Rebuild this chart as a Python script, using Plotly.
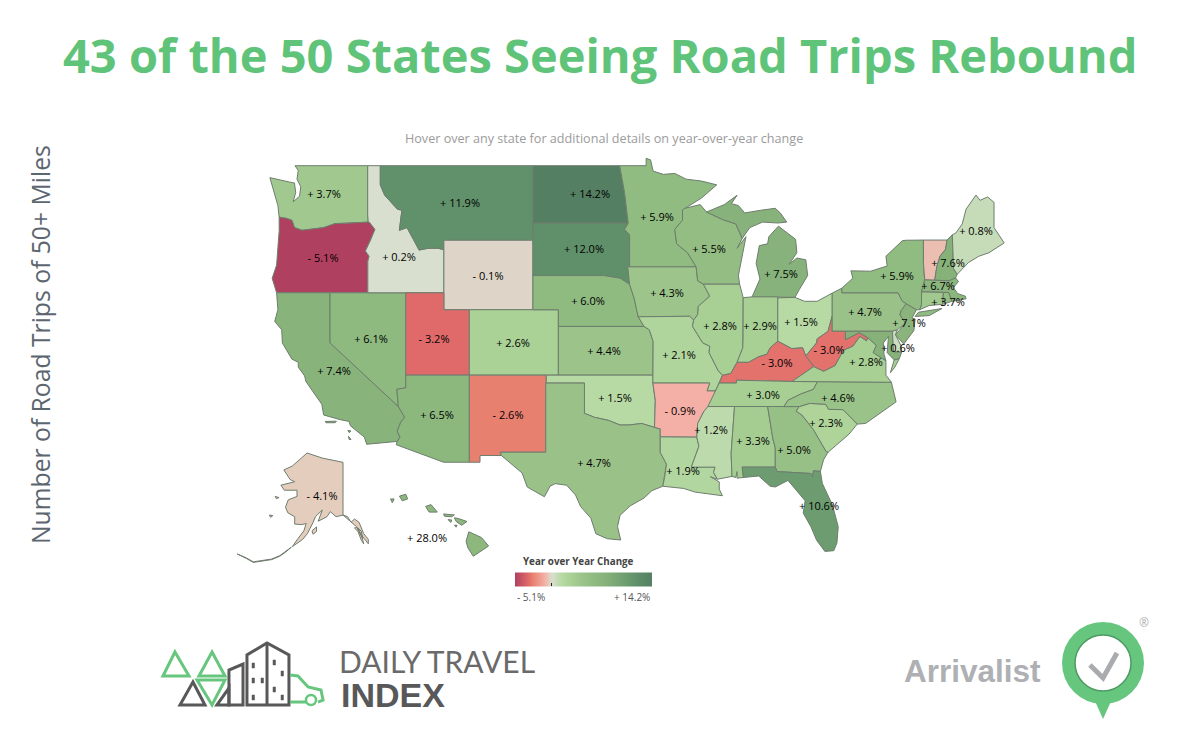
import math
import plotly.graph_objects as go
from plotly.colors import sample_colorscale

# ---------- data ----------
STATES = ["WA","OR","CA","NV","ID","MT","WY","UT","AZ","CO","NM","ND","SD","NE","KS","OK","TX","MN","IA","MO","AR","LA",
          "WI","IL","MS","MI","IN","OH","KY","TN","AL","GA","FL","SC","NC","VA","WV","PA","NY","ME","NH","MA","CT","NJ","DE","AK","HI"]
VALUES = [3.7,-5.1,7.4,6.1,0.2,11.9,-0.1,-3.2,6.5,2.6,-2.6,14.2,12.0,6.0,4.4,1.5,4.7,5.9,4.3,2.1,-0.9,1.9,
          5.5,2.8,1.2,7.5,2.9,1.5,-3.0,3.0,3.3,5.0,10.6,2.3,4.6,2.8,-3.0,4.7,5.9,0.8,7.6,6.7,3.7,7.1,0.6,-4.1,28.0]
# shading that differs from the printed label, or states with no printed label
SHADE_OVERRIDES = {"AK":-0.3,"HI":6.5,"VT":-0.6,"MD":7.6,"RI":5.5}

WHITE_TITLE = "43 of the 50 States Seeing Road Trips Rebound"
SUBTITLE = "Hover over any state for additional details on year-over-year change"
SIDE_TITLE = "Number of Road Trips of 50+ Miles"
LEGEND_TITLE = "Year over Year Change"
LEGEND_MIN, LEGEND_MAX = -5.1, 14.2

OUTLINES = {
"WA":[[(-124.73,48.38),(-124.4,47.6),(-124.1,46.9),(-124.0,46.27),(-123.4,46.2),(-123.0,46.1),(-122.8,45.7),(-122.2,45.55),(-121.2,45.65),(-120.5,45.7),(-119.6,45.92),(-119.0,45.93),(-117.0,46.0),(-117.04,46.42),(-117.04,49),(-122.75,49),(-122.5,48.75),(-122.6,48.3),(-122.3,47.9),(-122.4,47.4),(-122.9,47.1),(-122.7,47.6),(-122.8,48.1),(-123.2,48.15)]],
"OR":[[(-124.0,46.27),(-124.0,45.5),(-124.1,44.6),(-124.2,43.6),(-124.55,42.84),(-124.2,42),(-120,42),(-117.03,42),(-117.03,43.83),(-116.93,44.1),(-117.22,44.4),(-116.85,44.95),(-116.47,45.6),(-116.9,45.99),(-117.0,46.0),(-119.0,45.93),(-119.6,45.92),(-120.5,45.7),(-121.2,45.65),(-122.2,45.55),(-122.8,45.7),(-123.0,46.1),(-123.4,46.2)]],
"CA":[[(-124.2,42),(-120,42),(-120,39),(-114.63,35.0),(-114.13,34.3),(-114.43,34.0),(-114.72,33.4),(-114.5,33.0),(-114.72,32.72),(-117.12,32.53),(-117.3,33.0),(-118.4,33.75),(-118.5,34.03),(-119.2,34.15),(-120.5,34.45),(-120.65,35.15),(-121.9,36.6),(-122.0,36.95),(-122.5,37.5),(-122.5,37.8),(-123.0,38.0),(-123.75,39.0),(-123.8,39.8),(-124.35,40.3),(-124.1,41.0)],
      [(-120.4,34.03),(-119.5,34.05),(-119.6,33.95),(-120.3,33.95)],[(-118.6,33.45),(-118.35,33.4),(-118.5,33.3)],[(-118.55,33.05),(-118.35,32.85),(-118.5,32.85)]],
"NV":[[(-120,42),(-114.04,42),(-114.04,36.2),(-114.75,36.1),(-114.63,35.0),(-120,39)]],
"ID":[[(-117.04,49),(-116.05,49),(-116.05,48.0),(-115.7,47.45),(-114.7,46.7),(-114.35,46.65),(-114.55,45.55),(-113.95,45.7),(-113.45,45.05),(-113.0,44.45),(-112.3,44.55),(-111.5,44.55),(-111.05,44.47),(-111.05,42),(-117.03,42),(-117.03,43.83),(-116.93,44.1),(-117.22,44.4),(-116.85,44.95),(-116.47,45.6),(-116.9,45.99),(-117.0,46.0),(-117.04,46.42)]],
"MT":[[(-116.05,49),(-104.05,49),(-104.05,45),(-111.05,45),(-111.05,44.47),(-111.5,44.55),(-112.3,44.55),(-113.0,44.45),(-113.45,45.05),(-113.95,45.7),(-114.55,45.55),(-114.35,46.65),(-114.7,46.7),(-115.7,47.45),(-116.05,48.0)]],
"WY":[[(-111.05,45),(-104.05,45),(-104.05,41),(-111.05,41)]],
"UT":[[(-114.05,42),(-111.05,42),(-111.05,41),(-109.05,41),(-109.05,37),(-114.05,37)]],
"CO":[[(-109.05,41),(-102.05,41),(-102.05,37),(-109.05,37)]],
"AZ":[[(-114.05,37),(-109.05,37),(-109.05,31.33),(-111.07,31.33),(-114.8,32.5),(-114.72,32.72),(-114.5,33.0),(-114.72,33.4),(-114.43,34.0),(-114.13,34.3),(-114.63,35.0),(-114.75,36.1),(-114.04,36.2)]],
"NM":[[(-109.05,37),(-103.0,37),(-103.04,32),(-106.62,32),(-106.53,31.78),(-108.21,31.78),(-108.21,31.33),(-109.05,31.33)]],
"ND":[[(-104.05,49),(-97.23,49),(-96.85,47.6),(-96.56,45.94),(-104.05,45.94)]],
"SD":[[(-104.05,45.94),(-96.56,45.94),(-96.85,45.6),(-96.45,45.3),(-96.45,43.5),(-96.6,43.5),(-96.45,42.49),(-97.2,42.85),(-98.5,43.0),(-104.05,43)]],
"NE":[[(-104.05,43),(-98.5,43),(-97.2,42.85),(-96.45,42.49),(-96.1,41.7),(-95.9,41.0),(-95.77,40.58),(-95.31,40),(-102.05,40),(-102.05,41),(-104.05,41)]],
"KS":[[(-102.05,40),(-95.31,40),(-94.9,39.8),(-94.6,39.1),(-94.62,37),(-102.05,37)]],
"OK":[[(-103,37),(-94.62,37),(-94.62,36.5),(-94.43,35.4),(-94.49,33.64),(-95.5,33.9),(-96.5,33.8),(-97.2,33.8),(-98.1,34.1),(-99.2,34.3),(-100,34.56),(-100,36.5),(-103,36.5)]],
"TX":[[(-103.04,36.5),(-100,36.5),(-100,34.56),(-99.2,34.3),(-98.1,34.1),(-97.2,33.8),(-96.5,33.8),(-95.5,33.9),(-94.49,33.64),(-94.04,33.55),(-94.04,33.02),(-94.04,31.99),(-93.55,31.2),(-93.7,30.3),(-93.84,29.7),(-94.7,29.4),(-95.3,28.9),(-96.4,28.35),(-97.2,27.7),(-97.4,26.9),(-97.15,25.96),(-98.2,26.05),(-99.1,26.4),(-99.5,27.5),(-100.3,28.3),(-100.7,29.1),(-101.4,29.77),(-102.3,29.88),(-102.7,29.7),(-103.15,28.98),(-104.5,29.65),(-104.9,30.6),(-106.53,31.78),(-106.62,32),(-103.04,32)]],
"MN":[[(-97.23,49),(-95.15,49),(-95.15,49.38),(-94.8,49.3),(-94.6,48.72),(-93.8,48.55),(-92.9,48.6),(-92.0,48.3),(-90.8,48.2),(-89.6,48.0),(-90.8,47.3),(-92.1,46.75),(-92.29,46.66),(-92.29,46.1),(-92.9,45.6),(-92.75,44.8),(-91.9,44.3),(-91.22,43.5),(-96.45,43.5),(-96.45,45.3),(-96.85,45.6),(-96.56,45.94),(-96.85,47.6)]],
"IA":[[(-96.6,43.5),(-91.22,43.5),(-91.1,42.7),(-90.65,42.5),(-90.15,41.8),(-91.05,41.2),(-91.1,40.7),(-91.42,40.38),(-91.73,40.61),(-95.77,40.58),(-95.9,41.0),(-96.1,41.7),(-96.45,42.49)]],
"MO":[[(-95.77,40.58),(-91.73,40.61),(-91.42,40.38),(-91.5,40.0),(-90.7,39.0),(-90.15,38.8),(-90.2,38.4),(-89.5,37.3),(-89.15,36.99),(-89.4,36.5),(-89.7,36.0),(-90.37,36.0),(-90.15,36.5),(-94.62,36.5),(-94.62,37),(-94.6,39.1),(-94.9,39.8),(-95.31,40)]],
"AR":[[(-94.62,36.5),(-90.15,36.5),(-90.37,36.0),(-89.7,36.0),(-90.1,35.1),(-90.6,34.7),(-91.1,33.9),(-91.17,33.0),(-94.04,33.02),(-94.04,33.55),(-94.49,33.64),(-94.43,35.4)]],
"LA":[[(-94.04,33.02),(-91.17,33.0),(-91.0,32.4),(-91.6,31.0),(-89.73,31.0),(-89.85,30.65),(-89.55,30.18),(-90.1,30.35),(-89.4,30.0),(-89.4,29.5),(-89.15,29.05),(-90.1,29.15),(-91.3,29.3),(-92.2,29.55),(-93.84,29.7),(-93.7,30.3),(-93.55,31.2),(-94.04,31.99)]],
"WI":[[(-92.29,46.66),(-92.1,46.75),(-90.9,46.95),(-90.4,46.55),(-89.1,46.13),(-88.1,45.9),(-87.6,45.1),(-88.0,44.55),(-87.3,45.2),(-87.6,44.2),(-87.9,43.0),(-87.8,42.5),(-90.65,42.5),(-91.1,42.7),(-91.22,43.5),(-91.9,44.3),(-92.75,44.8),(-92.9,45.6),(-92.29,46.1)]],
"IL":[[(-90.65,42.5),(-87.8,42.5),(-87.52,41.71),(-87.53,39.35),(-87.55,38.7),(-88.0,37.8),(-88.5,37.1),(-89.15,36.99),(-89.5,37.3),(-90.2,38.4),(-90.15,38.8),(-90.7,39.0),(-91.5,40.0),(-91.42,40.38),(-91.1,40.7),(-91.05,41.2),(-90.15,41.8)]],
"MS":[[(-90.3,35.0),(-88.2,35.0),(-88.47,31.9),(-88.4,30.37),(-89.55,30.18),(-89.85,30.65),(-89.73,31.0),(-91.6,31.0),(-91.0,32.4),(-91.17,33.0),(-91.1,33.9),(-90.6,34.7)]],
"MI":[[(-86.82,41.76),(-84.8,41.76),(-83.45,41.73),(-83.1,42.2),(-82.45,43.0),(-82.6,43.9),(-83.3,44.0),(-83.9,43.65),(-83.3,44.3),(-83.4,45.05),(-84.75,45.78),(-85.5,45.2),(-85.6,44.8),(-86.25,44.7),(-86.5,43.7),(-86.2,42.8)],
      [(-90.4,46.55),(-89.1,46.13),(-88.1,45.9),(-87.6,45.1),(-87.0,45.7),(-86.0,46.0),(-84.8,45.95),(-84.1,46.0),(-84.6,46.5),(-85.0,46.75),(-86.1,46.65),(-87.4,46.5),(-87.9,46.9),(-88.45,47.0),(-88.0,47.45),(-89.0,46.95)]],
"IN":[[(-87.52,41.71),(-87.2,41.75),(-86.82,41.76),(-84.8,41.76),(-84.8,39.1),(-85.4,38.7),(-85.65,38.3),(-86.3,38.15),(-87.1,37.8),(-88.0,37.8),(-87.55,38.7),(-87.53,39.35)]],
"OH":[[(-84.8,41.7),(-83.45,41.73),(-82.7,41.5),(-81.7,41.5),(-80.52,41.98),(-80.52,40.64),(-80.85,39.7),(-81.7,39.25),(-81.75,39.0),(-82.2,38.6),(-82.6,38.2),(-82.85,38.7),(-83.7,38.65),(-84.3,38.9),(-84.8,39.1)]],
"KY":[[(-89.4,36.5),(-89.15,36.99),(-88.5,37.1),(-88.0,37.8),(-87.1,37.8),(-86.3,38.15),(-85.65,38.3),(-85.4,38.7),(-84.8,39.1),(-84.3,38.9),(-83.7,38.65),(-82.85,38.7),(-82.6,38.2),(-81.97,37.54),(-83.68,36.6),(-88.05,36.68),(-88.05,36.5)]],
"TN":[[(-90.3,35.0),(-89.7,36.0),(-89.4,36.5),(-88.05,36.5),(-88.05,36.68),(-83.68,36.6),(-81.68,36.59),(-82.0,36.1),(-83.0,35.8),(-84.0,35.4),(-84.32,34.99),(-85.6,35),(-88.2,35)]],
"AL":[[(-88.2,35.0),(-85.6,35.0),(-85.18,32.87),(-85.0,32.3),(-85.0,31.0),(-87.6,31.0),(-87.5,30.3),(-88.0,30.25),(-88.0,30.7),(-88.1,30.3),(-88.4,30.37),(-88.47,31.9)]],
"GA":[[(-85.6,35.0),(-83.11,35.0),(-83.35,34.7),(-82.9,34.45),(-82.0,33.5),(-81.4,32.6),(-81.0,32.05),(-80.85,32.0),(-81.2,31.5),(-81.45,30.71),(-82.0,30.75),(-82.05,30.36),(-82.2,30.57),(-84.86,30.7),(-85.0,31.0),(-85.0,32.3),(-85.18,32.87)]],
"FL":[[(-87.6,31.0),(-85.0,31.0),(-84.86,30.7),(-82.2,30.57),(-82.05,30.36),(-82.0,30.75),(-81.45,30.71),(-81.3,29.9),(-80.5,28.4),(-80.05,26.9),(-80.15,25.75),(-80.4,25.2),(-81.1,25.15),(-81.75,25.95),(-82.2,26.9),(-82.8,27.85),(-82.65,28.7),(-83.4,29.5),(-84.0,30.1),(-85.0,29.65),(-85.4,29.7),(-86.3,30.4),(-87.5,30.3)]],
"SC":[[(-83.11,35.0),(-82.3,35.2),(-81.05,35.15),(-80.8,34.82),(-79.67,34.8),(-78.55,33.86),(-79.2,33.2),(-79.9,32.7),(-80.85,32.0),(-81.0,32.05),(-81.4,32.6),(-82.0,33.5),(-82.9,34.45),(-83.35,34.7)]],
"NC":[[(-81.68,36.59),(-75.87,36.55),(-75.5,35.3),(-76.5,34.7),(-77.9,33.9),(-78.55,33.86),(-79.67,34.8),(-80.8,34.82),(-81.05,35.15),(-82.3,35.2),(-83.11,35.0),(-84.32,34.99),(-84.0,35.4),(-83.0,35.8),(-82.0,36.1)]],
"VA":[[(-83.68,36.6),(-81.97,37.54),(-81.2,37.25),(-80.3,37.6),(-79.65,38.55),(-78.9,38.8),(-78.35,39.4),(-77.83,39.13),(-77.72,39.32),(-77.05,38.85),(-77.3,38.4),(-76.3,37.9),(-76.3,37.0),(-75.87,36.55),(-81.68,36.59)],
      [(-75.95,37.15),(-75.65,37.95),(-75.25,38.03),(-75.6,37.5)]],
"WV":[[(-82.6,38.2),(-82.2,38.6),(-81.75,39.0),(-81.7,39.25),(-80.85,39.7),(-80.52,40.64),(-80.52,39.72),(-79.48,39.72),(-79.48,39.2),(-78.4,39.62),(-77.72,39.32),(-77.83,39.13),(-78.35,39.4),(-78.9,38.8),(-79.65,38.55),(-80.3,37.6),(-81.2,37.25),(-81.97,37.54)]],
"MD":[[(-79.48,39.72),(-75.79,39.72),(-75.7,38.46),(-75.05,38.45),(-75.25,38.03),(-75.65,37.95),(-76.2,38.4),(-76.1,39.4),(-76.5,39.0),(-76.45,38.3),(-76.3,37.9),(-77.3,38.4),(-77.05,38.85),(-77.72,39.32),(-78.4,39.62),(-79.48,39.2)]],
"DE":[[(-75.79,39.72),(-75.4,39.8),(-75.55,39.5),(-75.1,38.8),(-75.05,38.45),(-75.7,38.46)]],
"PA":[[(-80.52,41.98),(-79.76,42.27),(-79.76,42.0),(-75.35,42.0),(-75.0,41.5),(-74.7,41.36),(-75.1,40.95),(-75.2,40.7),(-74.75,40.2),(-75.4,39.8),(-75.79,39.72),(-80.52,39.72)]],
"NJ":[[(-74.7,41.36),(-73.9,41.0),(-74.25,40.5),(-74.0,40.45),(-74.1,39.75),(-74.9,38.93),(-75.55,39.5),(-74.75,40.2),(-75.2,40.7),(-75.1,40.95)]],
"NY":[[(-79.76,42.0),(-79.76,42.27),(-78.9,42.85),(-79.05,43.27),(-77.5,43.25),(-76.2,43.55),(-76.3,44.1),(-75.0,44.98),(-74.7,45.0),(-73.35,45.01),(-73.35,43.7),(-73.25,42.75),(-73.5,42.05),(-73.5,41.3),(-73.65,41.0),(-73.9,41.0),(-74.7,41.36),(-75.0,41.5),(-75.35,42.0)],
      [(-74.0,40.6),(-73.75,40.85),(-72.5,41.0),(-71.9,41.07),(-72.9,40.65)]],
"VT":[[(-73.35,45.01),(-71.5,45.01),(-71.6,44.5),(-72.05,44.1),(-72.3,43.5),(-72.46,42.73),(-73.25,42.75),(-73.35,43.7)]],
"NH":[[(-71.5,45.01),(-71.08,45.3),(-70.98,43.4),(-70.7,43.07),(-70.82,42.87),(-71.3,42.7),(-72.46,42.73),(-72.3,43.5),(-72.05,44.1),(-71.6,44.5)]],
"ME":[[(-71.08,45.3),(-70.8,45.4),(-70.3,45.9),(-70.0,46.7),(-69.22,47.46),(-68.9,47.18),(-68.3,47.36),(-67.8,47.07),(-67.8,45.7),(-67.45,45.3),(-67.0,44.85),(-68.2,44.3),(-69.0,44.1),(-69.8,43.75),(-70.6,43.1),(-70.7,43.07),(-70.98,43.4)]],
"MA":[[(-73.5,42.05),(-73.25,42.75),(-72.46,42.73),(-71.3,42.7),(-70.82,42.87),(-70.6,42.65),(-71.0,42.3),(-70.65,41.95),(-70.05,41.8),(-70.0,41.65),(-70.65,41.55),(-71.12,41.5),(-71.38,42.02),(-71.8,42.02)]],
"RI":[[(-71.8,42.02),(-71.38,42.02),(-71.12,41.5),(-71.85,41.32)]],
"CT":[[(-73.5,42.05),(-71.8,42.02),(-71.85,41.32),(-72.9,41.25),(-73.65,41.0),(-73.5,41.3)]],
"AK":[[(-141,69.65),(-141,60.3),(-144,60),(-146.5,60.9),(-148,60),(-151.8,59.2),(-150,61.2),(-153,60),(-154,59),(-156.5,57),(-158.5,56),(-161,55.2),(-163,54.7),(-161,55.9),(-158,57.5),(-157,58.8),(-159,58.6),(-162,58.7),(-162,60),(-165,60.7),(-166,61.7),(-164.8,63),(-161,63.6),(-161,64.7),(-166.5,64.7),(-168,65.6),(-162,66.2),(-164,66.6),(-166.7,68.3),(-163,69),(-156.6,71.3),(-150,70.4),(-145,70)],
      [(-141,60.3),(-139,59.6),(-136.5,58.7),(-135,58.2),(-133.5,57),(-131,55.6),(-130,55.2),(-130,56),(-132,57),(-134,59),(-136,59.6),(-137.5,59),(-139,60)],
      [(-136,58),(-134.5,57.4),(-133,55.8),(-132,55.2),(-133,56.8),(-135,58.1)],[(-134.5,58),(-133.5,56.9),(-132.5,56.2),(-133,57.4)],
      [(-163.5,54.6),(-166,53.8),(-168.5,53.1),(-172,52.5),(-176,52.2),(-180,52),(-183,52.7),(-187,53.4),(-183,52.6),(-180,51.9),(-176,52.1),(-172,52.4),(-168.5,53),(-166,53.7)],
      [(-154.5,57.5),(-152.5,58.2),(-152.5,57.4),(-154,56.9)],[(-173,60.3),(-171.5,60.2),(-172.5,59.9)],[(-170.5,63.6),(-168.8,63.4),(-170,63.2)]],
"HI":[[(-159.75,22.15),(-159.4,22.25),(-159.3,22.0),(-159.6,21.9)],[(-160.25,22.0),(-160.05,22.0),(-160.15,21.8)],
      [(-158.3,21.6),(-158.0,21.7),(-157.65,21.3),(-158.1,21.3)],[(-157.3,21.2),(-156.7,21.15),(-156.85,21.05),(-157.25,21.08)],
      [(-157.05,20.9),(-156.85,20.88),(-156.9,20.75)],[(-156.7,21.0),(-156.45,20.95),(-156.0,20.8),(-156.3,20.6),(-156.6,20.8)],[(-156.7,20.6),(-156.55,20.6),(-156.6,20.5)],
      [(-155.9,20.25),(-155.2,19.95),(-154.8,19.5),(-155.65,18.95),(-155.95,19.4),(-156.05,19.75)]],
}

# text placement, in picture pixels
LABEL_AT = {"WA":(324,195),"OR":(323,259),"CA":(334,372),"NV":(371,340),"ID":(399,258),"MT":(460,204),"WY":(488,277),"UT":(434,340),
"AZ":(437,416),"CO":(513,344),"NM":(508,416),"ND":(590,195),"SD":(584,250),"NE":(588,302),"KS":(604,352),"OK":(615,399),"TX":(594,464),
"MN":(657,218),"IA":(667,294),"MO":(679,356),"AR":(680,412),"LA":(683,472),"WI":(709,250),"IL":(720,327),"MS":(711,431),"MI":(781,275),
"IN":(760,327),"OH":(801,323),"KY":(777,364),"TN":(763,396),"AL":(753,442),"GA":(794,451),"FL":(819,507),"SC":(826,424),"NC":(838,399),
"VA":(866,363),"WV":(829,351),"PA":(865,313),"NY":(897,277),"ME":(976,232),"NH":(948,264),"MA":(938,287),"CT":(948,303),"NJ":(909,324),
"DE":(898,349),"AK":(322,497),"HI":(427,539)}

STOPS = [(-5.1,"#B0405F"),(-3.2,"#E06A6A"),(-2.6,"#E88070"),(-0.9,"#F4B0A6"),(-0.3,"#E5CDBD"),(-0.1,"#DED5C8"),(0.2,"#D8DFCF"),(0.8,"#C6DCB8"),
         (1.5,"#B7D9A4"),(2.6,"#AAD296"),(4.4,"#9CC48A"),(6.0,"#8FBA80"),(7.4,"#88B37B"),(10.6,"#6D9C70"),(12.0,"#5F9069"),(14.2,"#557F63")]

# ---------- projection: the map is web-mercator, AK and HI are insets ----------
PX_PER_LON, PX_PER_MERC = 12.72, 12.7
def merc(lat):
    return math.degrees(math.log(math.tan(math.pi/4 + math.radians(lat)/2)))
X0 = -117.04 - 367.7/PX_PER_LON
Y0 = merc(49) + 165.7/PX_PER_MERC
def px_to_axis(px, py):
    return X0 + px/PX_PER_LON, Y0 - py/PX_PER_MERC
def project(state, lon, lat):
    if state == "AK":
        return px_to_axis(343 + 2.3*(lon+141), 453 + (71.3-lat)*5.64)
    if state == "HI":
        return px_to_axis(404 + 18*(lon+159.5), 498 + (22.05-lat)*18.8)
    return lon, merc(lat)

def hex_rgb(h):
    return "rgb(%d,%d,%d)" % (int(h[1:3],16), int(h[3:5],16), int(h[5:7],16))
SCALE = [[(v-LEGEND_MIN)/(LEGEND_MAX-LEGEND_MIN), hex_rgb(c)] for v,c in STOPS]
def shade(v):
    t = max(0, min(1, (v-LEGEND_MIN)/(LEGEND_MAX-LEGEND_MIN)))
    return sample_colorscale(SCALE, [t], colortype="rgb")[0]

value_of = dict(zip(STATES, VALUES))
fig = go.Figure()
for st, rings in OUTLINES.items():
    xs, ys = [], []
    for ring in rings:
        for lon, lat in ring + [ring[0]]:
            x, y = project(st, lon, lat)
            xs.append(x); ys.append(y)
        xs.append(None); ys.append(None)
    v = SHADE_OVERRIDES.get(st, value_of.get(st, 0))
    fig.add_trace(go.Scatter(x=xs, y=ys, mode="lines", fill="toself", fillcolor=shade(v),
                             line=dict(color="#6E7D6E", width=1), name=st, hoverinfo="name", showlegend=False))

def fmt(v):
    return ("+ " if v >= 0 else "- ") + "%.1f%%" % abs(v)
lab_xy = [px_to_axis(*LABEL_AT[s]) for s in STATES]
fig.add_trace(go.Scatter(
    x=[p[0] for p in lab_xy], y=[p[1] for p in lab_xy], mode="markers+text",
    text=[fmt(v) for v in VALUES], textposition="middle center",
    textfont=dict(family="Open Sans", size=11, color="#000"),
    marker=dict(size=1, opacity=0, color=VALUES, colorscale=SCALE, cmin=LEGEND_MIN, cmax=LEGEND_MAX, showscale=True,
                colorbar=dict(orientation="h", x=583.5/1200, xanchor="center", y=1-581/741, yanchor="middle",
                              lenmode="pixels", len=137, thicknessmode="pixels", thickness=14, outlinewidth=0,
                              tickvals=[0], ticktext=[""], ticks="inside", ticklen=3, tickcolor="#222", tickwidth=1, xpad=0, ypad=0)),
    hoverinfo="skip", showlegend=False))

def P(x): return x/1200
def Q(y): return 1-y/741
def note(text, x, y, size, color, family="Open Sans", anchor="center", **kw):
    fig.add_annotation(text=text, x=P(x), y=Q(y), xref="paper", yref="paper", showarrow=False, xanchor=anchor, yanchor="middle",
                       font=dict(family=family, size=size, color=color), **kw)

note("<b>"+WHITE_TITLE+"</b>", 600, 55, 47, "#5FC47A")
note(SUBTITLE, 604, 138, 12.6, "#9B9B9B")
note(SIDE_TITLE, 40, 345, 24.7, "#5C6670", textangle=-90)
note("<b>"+LEGEND_TITLE+"</b>", 578, 561, 9.8, "#444")
note(fmt(LEGEND_MIN), 515, 597, 10, "#555", anchor="left")
note(fmt(LEGEND_MAX), 652, 597, 10, "#555", anchor="right")

# logos
GREEN, GREY = "#66C67E", "#58585A"
def poly(pts, color, width=3, fill=None, closed=True):
    d = "M " + " L ".join("%.4f,%.4f" % (P(x), Q(y)) for x,y in pts) + (" Z" if closed else "")
    fig.add_shape(type="path", path=d, xref="paper", yref="paper", line=dict(color=color, width=width),
                  fillcolor=fill if fill else "rgba(0,0,0,0)")
def circ(cx, cy, r, fill, line=None, w=0):
    fig.add_shape(type="circle", xref="paper", yref="paper", x0=P(cx-r), x1=P(cx+r), y0=Q(cy+r), y1=Q(cy-r),
                  fillcolor=fill, line=dict(color=line or fill, width=w))
poly([(175,652),(163,676),(189,676)], GREEN)
poly([(212,652),(199,676),(225,676)], GREEN)
poly([(193,682),(180,705),(205,705)], GREY)
poly([(197,680),(225,680),(212,705)], GREEN)
poly([(217,705),(229,688),(229,705)], GREY)
poly([(229,705),(229,670),(243,664),(243,705)], GREY)
poly([(247,705),(247,655),(267,643),(289,655),(289,705)], GREY)
poly([(267,643),(267,705)], GREY, closed=False)
for wx, wy in [(273,660),(281,671),(252,663),(252,678),(261,678),(273,687),(281,695),(252,695)]:
    poly([(wx,wy),(wx+2.5,wy),(wx+2.5,wy+5),(wx,wy+5)], GREY, width=0.5, fill=GREY)
poly([(290,675),(298,676),(308,687),(321,690),(323,700),(318,702)], GREEN, closed=False)
poly([(290,702),(306,702)], GREEN, closed=False)
circ(311, 700, 5, "#fff", GREEN, 2.5)
note("DAILY TRAVEL", 337, 661, 30, "#6A6A6A", family="Lato", anchor="left")
note("<b>INDEX</b>", 339, 695, 34, GREY, family="Liberation Sans", anchor="left")

note("<b>Arrivalist</b>", 902, 671, 31.5, "#AEB0B3", family="Liberation Sans", anchor="left")
poly([(1094,699),(1112,699),(1103,719)], GREEN, width=0, fill=GREEN)
circ(1103, 663, 41, GREEN)
circ(1103, 663, 28, "#fff", "#4E9A64", 1.5)
poly([(1090,665),(1103,678),(1117,653)], "#A9ABAE", width=5, closed=False)
note("®", 1144, 622, 12, "#AEB0B3")

fig.update_layout(width=1200, height=741, margin=dict(l=0,r=0,t=0,b=0), paper_bgcolor="#fff", plot_bgcolor="#fff",
                  showlegend=False,
                  xaxis=dict(range=[X0, X0+1200/PX_PER_LON], domain=[0,1], visible=False, fixedrange=True),
                  yaxis=dict(range=[Y0-741/PX_PER_MERC, Y0], domain=[0,1], visible=False, fixedrange=True))
fig.write_html("out.html", config=dict(displayModeBar=False), post_script="document.body.style.margin='0';")
